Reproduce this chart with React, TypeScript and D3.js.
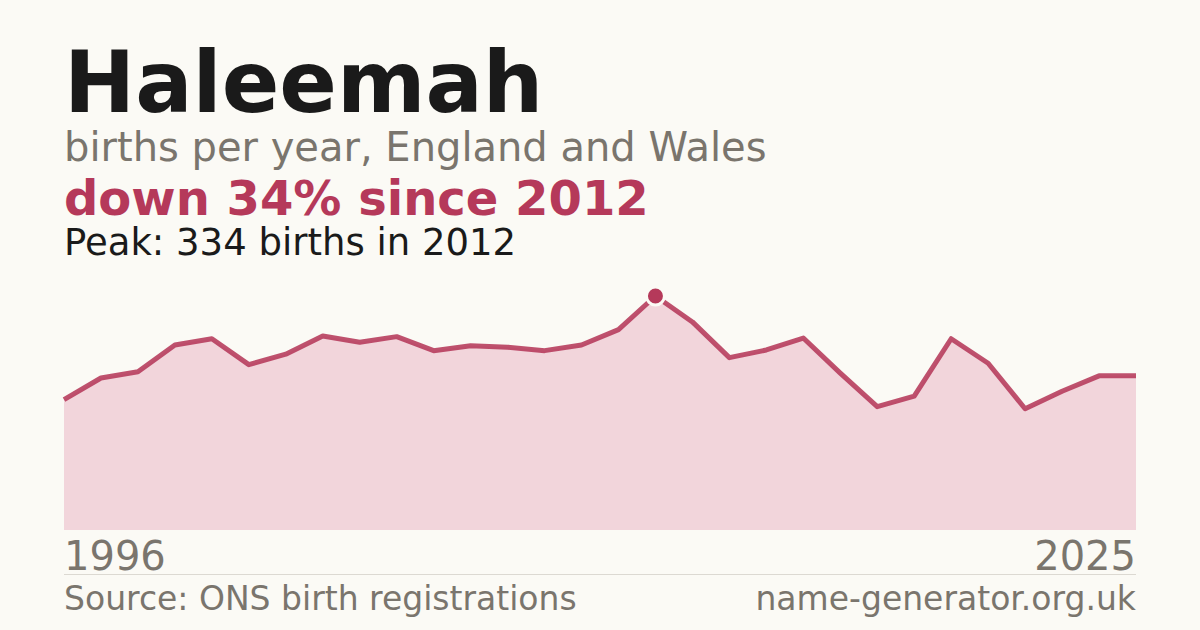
import React from "react";
import * as d3 from "d3";

const years: number[] = [
  1996, 1997, 1998, 1999, 2000, 2001, 2002, 2003, 2004, 2005,
  2006, 2007, 2008, 2009, 2010, 2011, 2012, 2013, 2014, 2015,
  2016, 2017, 2018, 2019, 2020, 2021, 2022, 2023, 2024, 2025,
];
const births: number[] = [
  186, 217, 226, 264, 273, 236, 251, 277, 268, 276,
  256, 263, 261, 256, 264, 286, 334, 297, 246, 257,
  274, 224, 176, 191, 273, 238, 173, 198, 220, 220,
];
const nameTitle = "Haleemah";
const subtitle = "births per year, England and Wales";
const headline = "down 34% since 2012";
const peakText = "Peak: 334 births in 2012";
const sourceText = "Source: ONS birth registrations";
const siteText = "name-generator.org.uk";

const W = 1200;
const H = 630;
const FONT = "'DejaVu Sans', sans-serif";
const ACCENT = "#b5395a";
const GRAY = "#7a756d";

export default function App() {
  const x = d3.scaleLinear().domain([years[0], years[years.length - 1]]).range([64, 1136]);
  const y = d3.scaleLinear().domain([0, d3.max(births) as number]).range([530, 296]);
  const pts: [number, number][] = years.map((yr, i) => [yr, births[i]]);
  const area = d3.area<[number, number]>().x((d) => x(d[0])).y0(y(0)).y1((d) => y(d[1]));
  const line = d3.line<[number, number]>().x((d) => x(d[0])).y((d) => y(d[1]));
  const peakIdx = d3.maxIndex(births);

  return (
    <div style={{ position: "fixed", left: 0, top: 0, width: W, height: H }}>
      <svg width={W} height={H} viewBox={`0 0 ${W} ${H}`} style={{ display: "block" }}>
        <rect width={W} height={H} fill="#fbfaf5" />
        <text x={64} y={112} fontFamily={FONT} fontWeight="bold" fontSize={85} fill="#1a1a1a">{nameTitle}</text>
        <text x={64} y={161} fontFamily={FONT} fontSize={40} fill={GRAY}>{subtitle}</text>
        <text x={64} y={215} fontFamily={FONT} fontWeight="bold" fontSize={48} fill={ACCENT}>{headline}</text>
        <text x={64} y={255} fontFamily={FONT} fontSize={37} fill="#1a1a1a">{peakText}</text>

        <path d={area(pts) ?? ""} fill="#f2d5db" />
        <path d={line(pts) ?? ""} fill="none" stroke={ACCENT} strokeWidth={5} strokeLinejoin="round" strokeOpacity={0.88} />
        <circle cx={x(years[peakIdx])} cy={y(births[peakIdx])} r={9} fill={ACCENT} stroke="#fbfaf5" strokeWidth={3} />

        <text x={64} y={570} fontFamily={FONT} fontSize={40} fill={GRAY}>{years[0]}</text>
        <text x={1136} y={570} fontFamily={FONT} fontSize={40} fill={GRAY} textAnchor="end">{years[years.length - 1]}</text>
        <line x1={64} x2={1136} y1={574.5} y2={574.5} stroke="#dcd9d2" strokeWidth={1} />
        <text x={64} y={610} fontFamily={FONT} fontSize={33} fill={GRAY}>{sourceText}</text>
        <text x={1136} y={610} fontFamily={FONT} fontSize={33} fill={GRAY} textAnchor="end">{siteText}</text>
      </svg>
    </div>
  );
}
